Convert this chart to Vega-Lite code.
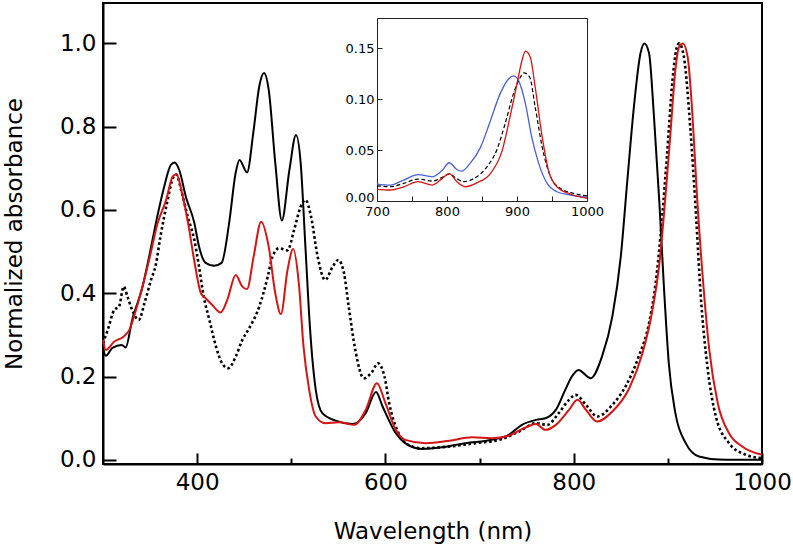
{
  "$schema": "https://vega.github.io/schema/vega-lite/v6.json",
  "width": 659,
  "height": 461,
  "autosize": {"type": "none"},
  "padding": {"left": 103, "top": 3, "right": 31, "bottom": 82},
  "background": "white",
  "config": {
    "view": {"stroke": "black", "strokeWidth": 2},
    "font": "DejaVu Sans",
    "axis": {"labelFont": "DejaVu Sans", "titleFont": "DejaVu Sans", "labelColor": "black", "titleColor": "black", "grid": false, "titleFontWeight": "normal", "labelFlush": false, "labelOverlap": false}
  },
  "datasets": {
    "main_black": [
      {"wl":300,"abs":0.268},{"wl":303,"abs":0.25},{"wl":310,"abs":0.269},{"wl":320,"abs":0.276},{"wl":324,"abs":0.27},{"wl":331,"abs":0.336},{"wl":342,"abs":0.416},{"wl":349,"abs":0.488},{"wl":358,"abs":0.588},{"wl":365,"abs":0.656},{"wl":372,"abs":0.708},{"wl":376,"abs":0.714},{"wl":381,"abs":0.696},{"wl":388,"abs":0.632},{"wl":397,"abs":0.569},{"wl":402,"abs":0.512},{"wl":409,"abs":0.473},{"wl":418,"abs":0.466},{"wl":426,"abs":0.473},{"wl":434,"abs":0.569},{"wl":441,"abs":0.69},{"wl":445,"abs":0.72},{"wl":453,"abs":0.69},{"wl":460,"abs":0.792},{"wl":466,"abs":0.897},{"wl":471,"abs":0.929},{"wl":476,"abs":0.889},{"wl":483,"abs":0.713},{"wl":490,"abs":0.575},{"wl":498,"abs":0.696},{"wl":505,"abs":0.78},{"wl":510,"abs":0.712},{"wl":515,"abs":0.512},{"wl":520,"abs":0.312},{"wl":526,"abs":0.168},{"wl":533,"abs":0.112},{"wl":547,"abs":0.094},{"wl":565,"abs":0.086},{"wl":579,"abs":0.112},{"wl":590,"abs":0.163},{"wl":597,"abs":0.128},{"wl":611,"abs":0.064},{"wl":621,"abs":0.04},{"wl":639,"abs":0.026},{"wl":660,"abs":0.03},{"wl":685,"abs":0.04},{"wl":713,"abs":0.048},{"wl":731,"abs":0.06},{"wl":745,"abs":0.084},{"wl":760,"abs":0.096},{"wl":770,"abs":0.1},{"wl":781,"abs":0.12},{"wl":791,"abs":0.168},{"wl":798,"abs":0.2},{"wl":805,"abs":0.216},{"wl":818,"abs":0.196},{"wl":830,"abs":0.248},{"wl":841,"abs":0.344},{"wl":850,"abs":0.488},{"wl":857,"abs":0.672},{"wl":864,"abs":0.849},{"wl":871,"abs":0.977},{"wl":875,"abs":1.0},{"wl":880,"abs":0.977},{"wl":885,"abs":0.833},{"wl":891,"abs":0.617},{"wl":896,"abs":0.408},{"wl":901,"abs":0.232},{"wl":908,"abs":0.112},{"wl":919,"abs":0.04},{"wl":933,"abs":0.008},{"wl":954,"abs":0.001},{"wl":1000,"abs":0.0}
    ],
    "main_dotted": [
      {"wl":300,"abs":0.28},{"wl":305,"abs":0.312},{"wl":312,"abs":0.36},{"wl":317,"abs":0.368},{"wl":322,"abs":0.416},{"wl":326,"abs":0.392},{"wl":331,"abs":0.36},{"wl":338,"abs":0.336},{"wl":344,"abs":0.376},{"wl":351,"abs":0.432},{"wl":356,"abs":0.468},{"wl":361,"abs":0.536},{"wl":368,"abs":0.617},{"wl":375,"abs":0.68},{"wl":378,"abs":0.685},{"wl":383,"abs":0.648},{"wl":390,"abs":0.584},{"wl":397,"abs":0.528},{"wl":402,"abs":0.464},{"wl":407,"abs":0.392},{"wl":413,"abs":0.336},{"wl":420,"abs":0.272},{"wl":427,"abs":0.23},{"wl":433,"abs":0.22},{"wl":441,"abs":0.248},{"wl":448,"abs":0.288},{"wl":455,"abs":0.315},{"wl":466,"abs":0.368},{"wl":475,"abs":0.44},{"wl":480,"abs":0.488},{"wl":487,"abs":0.508},{"wl":496,"abs":0.503},{"wl":503,"abs":0.552},{"wl":510,"abs":0.608},{"wl":515,"abs":0.624},{"wl":521,"abs":0.584},{"wl":528,"abs":0.488},{"wl":536,"abs":0.432},{"wl":544,"abs":0.464},{"wl":550,"abs":0.48},{"wl":556,"abs":0.448},{"wl":561,"abs":0.368},{"wl":568,"abs":0.264},{"wl":577,"abs":0.196},{"wl":586,"abs":0.212},{"wl":592,"abs":0.232},{"wl":599,"abs":0.2},{"wl":604,"abs":0.136},{"wl":614,"abs":0.064},{"wl":625,"abs":0.035},{"wl":639,"abs":0.028},{"wl":668,"abs":0.032},{"wl":696,"abs":0.04},{"wl":721,"abs":0.048},{"wl":742,"abs":0.068},{"wl":760,"abs":0.088},{"wl":772,"abs":0.084},{"wl":784,"abs":0.112},{"wl":795,"abs":0.144},{"wl":802,"abs":0.156},{"wl":813,"abs":0.132},{"wl":825,"abs":0.104},{"wl":841,"abs":0.132},{"wl":855,"abs":0.176},{"wl":869,"abs":0.248},{"wl":880,"abs":0.328},{"wl":887,"abs":0.424},{"wl":894,"abs":0.584},{"wl":899,"abs":0.728},{"wl":905,"abs":0.913},{"wl":909,"abs":0.985},{"wl":912,"abs":1.0},{"wl":917,"abs":0.968},{"wl":924,"abs":0.792},{"wl":930,"abs":0.584},{"wl":935,"abs":0.392},{"wl":942,"abs":0.224},{"wl":951,"abs":0.104},{"wl":965,"abs":0.04},{"wl":983,"abs":0.012},{"wl":1000,"abs":0.004}
    ],
    "main_red": [
      {"wl":300,"abs":0.288},{"wl":303,"abs":0.264},{"wl":312,"abs":0.284},{"wl":322,"abs":0.296},{"wl":328,"abs":0.312},{"wl":335,"abs":0.36},{"wl":342,"abs":0.416},{"wl":349,"abs":0.48},{"wl":358,"abs":0.568},{"wl":367,"abs":0.624},{"wl":374,"abs":0.68},{"wl":378,"abs":0.686},{"wl":384,"abs":0.64},{"wl":391,"abs":0.56},{"wl":398,"abs":0.464},{"wl":404,"abs":0.4},{"wl":409,"abs":0.388},{"wl":416,"abs":0.372},{"wl":425,"abs":0.354},{"wl":432,"abs":0.384},{"wl":441,"abs":0.444},{"wl":448,"abs":0.416},{"wl":453,"abs":0.41},{"wl":460,"abs":0.488},{"wl":468,"abs":0.572},{"wl":476,"abs":0.512},{"wl":483,"abs":0.4},{"wl":489,"abs":0.35},{"wl":496,"abs":0.456},{"wl":502,"abs":0.506},{"wl":508,"abs":0.424},{"wl":513,"abs":0.272},{"wl":519,"abs":0.168},{"wl":526,"abs":0.104},{"wl":536,"abs":0.088},{"wl":551,"abs":0.09},{"wl":567,"abs":0.084},{"wl":579,"abs":0.12},{"wl":591,"abs":0.184},{"wl":600,"abs":0.136},{"wl":611,"abs":0.072},{"wl":621,"abs":0.048},{"wl":643,"abs":0.04},{"wl":668,"abs":0.046},{"wl":692,"abs":0.054},{"wl":713,"abs":0.052},{"wl":731,"abs":0.058},{"wl":749,"abs":0.078},{"wl":760,"abs":0.086},{"wl":770,"abs":0.072},{"wl":781,"abs":0.084},{"wl":795,"abs":0.12},{"wl":804,"abs":0.144},{"wl":813,"abs":0.12},{"wl":825,"abs":0.092},{"wl":841,"abs":0.116},{"wl":859,"abs":0.172},{"wl":873,"abs":0.256},{"wl":883,"abs":0.352},{"wl":891,"abs":0.472},{"wl":898,"abs":0.648},{"wl":903,"abs":0.792},{"wl":908,"abs":0.937},{"wl":913,"abs":0.997},{"wl":916,"abs":1.0},{"wl":921,"abs":0.968},{"wl":926,"abs":0.833},{"wl":931,"abs":0.632},{"wl":937,"abs":0.44},{"wl":944,"abs":0.264},{"wl":953,"abs":0.136},{"wl":965,"abs":0.064},{"wl":979,"abs":0.032},{"wl":1000,"abs":0.012}
    ],
    "inset_blue": [
      {"wl":700,"abs":0.0167},{"wl":719,"abs":0.0157},{"wl":738,"abs":0.0206},{"wl":759,"abs":0.026},{"wl":779,"abs":0.0238},{"wl":793,"abs":0.03},{"wl":803,"abs":0.0376},{"wl":814,"abs":0.031},{"wl":821,"abs":0.0294},{"wl":833,"abs":0.037},{"wl":848,"abs":0.053},{"wl":862,"abs":0.079},{"wl":876,"abs":0.1056},{"wl":888,"abs":0.12},{"wl":895,"abs":0.123},{"wl":902,"abs":0.1186},{"wl":912,"abs":0.0958},{"wl":921,"abs":0.063},{"wl":931,"abs":0.037},{"wl":943,"abs":0.0173},{"wl":957,"abs":0.0091},{"wl":976,"abs":0.0059},{"wl":1000,"abs":0.0036}
    ],
    "inset_dashed": [
      {"wl":700,"abs":0.015},{"wl":719,"abs":0.014},{"wl":738,"abs":0.0173},{"wl":759,"abs":0.0216},{"wl":779,"abs":0.0196},{"wl":793,"abs":0.0232},{"wl":803,"abs":0.0265},{"wl":814,"abs":0.022},{"wl":824,"abs":0.019},{"wl":838,"abs":0.022},{"wl":857,"abs":0.0336},{"wl":871,"abs":0.05},{"wl":883,"abs":0.076},{"wl":895,"abs":0.1056},{"wl":905,"abs":0.122},{"wl":910,"abs":0.126},{"wl":918,"abs":0.122},{"wl":926,"abs":0.0925},{"wl":936,"abs":0.053},{"wl":948,"abs":0.0238},{"wl":962,"abs":0.0124},{"wl":981,"abs":0.0075},{"wl":1000,"abs":0.005}
    ],
    "inset_red": [
      {"wl":700,"abs":0.0115},{"wl":719,"abs":0.0108},{"wl":738,"abs":0.014},{"wl":759,"abs":0.019},{"wl":779,"abs":0.0157},{"wl":793,"abs":0.022},{"wl":803,"abs":0.027},{"wl":814,"abs":0.019},{"wl":826,"abs":0.014},{"wl":843,"abs":0.018},{"wl":862,"abs":0.027},{"wl":879,"abs":0.05},{"wl":890,"abs":0.0826},{"wl":900,"abs":0.1154},{"wl":907,"abs":0.138},{"wl":912,"abs":0.1474},{"wl":919,"abs":0.1415},{"wl":926,"abs":0.112},{"wl":936,"abs":0.063},{"wl":945,"abs":0.03},{"wl":957,"abs":0.014},{"wl":976,"abs":0.0069},{"wl":1000,"abs":0.0026}
    ]
  },
  "layer": [
    {
      "layer": [
        {
          "data": {"name": "main_black"},
          "mark": {"type": "line", "color": "black", "strokeWidth": 2, "interpolate": "monotone"},
          "encoding": {
            "x": {"field": "wl", "type": "quantitative",
              "scale": {"domain": [300, 1000], "nice": false, "zero": false},
              "axis": {"orient": "bottom", "values": [400, 600, 800, 1000], "format": "d", "title": "Wavelength (nm)",
                "tickSize": -11, "tickWidth": 2, "tickColor": "black", "domainColor": "black", "domainWidth": 2,
                "labelFontSize": 23, "titleFontSize": 23, "labelPadding": 18, "titlePadding": 26}},
            "y": {"field": "abs", "type": "quantitative",
              "scale": {"domain": [-0.01, 1.097], "nice": false, "zero": false},
              "axis": {"orient": "left", "values": [0, 0.2, 0.4, 0.6, 0.8, 1.0], "format": ".1f", "title": "Normalized absorbance",
                "tickSize": -13, "tickWidth": 2, "tickColor": "black", "domainColor": "black", "domainWidth": 2,
                "labelFontSize": 23, "titleFontSize": 23, "labelPadding": 20, "titlePadding": 33}}
          }
        },
        {
          "data": {"name": "main_dotted"},
          "mark": {"type": "line", "color": "black", "strokeWidth": 2.6, "strokeDash": [2.6, 2.6], "interpolate": "monotone"},
          "encoding": {
            "x": {"field": "wl", "type": "quantitative",
              "axis": {"orient": "bottom", "values": [500, 700, 900], "labels": false, "domain": false, "title": null,
                "tickSize": -6, "tickWidth": 2, "tickColor": "black"}},
            "y": {"field": "abs", "type": "quantitative"}
          }
        },
        {
          "data": {"name": "main_red"},
          "mark": {"type": "line", "color": "#d41515", "strokeWidth": 2, "interpolate": "monotone"},
          "encoding": {
            "x": {"field": "wl", "type": "quantitative", "axis": null},
            "y": {"field": "abs", "type": "quantitative"}
          }
        }
      ],
      "resolve": {"axis": {"x": "independent"}}
    },
    {
      "layer": [
        {
          "data": {"name": "inset_blue"},
          "mark": {"type": "line", "color": "#4a5fd6", "strokeWidth": 1.3, "interpolate": "monotone"},
          "encoding": {
            "x": {"field": "wl", "type": "quantitative",
              "scale": {"domain": [700, 1000], "range": [274, 484], "nice": false, "zero": false},
              "axis": {"orient": "bottom", "offset": -263, "values": [700, 750, 800, 850, 900, 950, 1000],
                "labelExpr": "datum.value % 100 === 0 ? datum.label : ''", "format": "d", "title": null,
                "tickSize": -5, "tickWidth": 1, "tickColor": "#222", "domainColor": "#222", "domainWidth": 1,
                "labelFontSize": 13, "labelPadding": 9}},
            "y": {"field": "abs", "type": "quantitative",
              "scale": {"domain": [0, 0.18], "range": [198, 15], "nice": false, "zero": false},
              "axis": {"orient": "left", "offset": -274, "values": [0, 0.05, 0.1, 0.15], "format": ".2f", "title": null,
                "tickSize": -5, "tickWidth": 1, "tickColor": "#222", "domainColor": "#222", "domainWidth": 1,
                "labelFontSize": 13, "labelPadding": 8,
                "labelBaseline": {"condition": {"test": "datum.value === 0", "value": "alphabetic"}, "value": "middle"}}}
          }
        },
        {
          "data": {"name": "inset_dashed"},
          "mark": {"type": "line", "color": "black", "strokeWidth": 1.2, "strokeDash": [4, 2.5], "interpolate": "monotone"},
          "encoding": {
            "x": {"field": "wl", "type": "quantitative",
              "axis": {"orient": "top", "offset": -15, "labels": false, "ticks": false, "title": null, "domainColor": "#222", "domainWidth": 1}},
            "y": {"field": "abs", "type": "quantitative",
              "axis": {"orient": "right", "offset": -175, "labels": false, "ticks": false, "title": null, "domainColor": "#222", "domainWidth": 1}}
          }
        },
        {
          "data": {"name": "inset_red"},
          "mark": {"type": "line", "color": "#d41515", "strokeWidth": 1.3, "interpolate": "monotone"},
          "encoding": {
            "x": {"field": "wl", "type": "quantitative", "axis": null},
            "y": {"field": "abs", "type": "quantitative", "axis": null}
          }
        }
      ],
      "resolve": {"axis": {"x": "independent", "y": "independent"}}
    }
  ],
  "resolve": {"scale": {"x": "independent", "y": "independent"}}
}
